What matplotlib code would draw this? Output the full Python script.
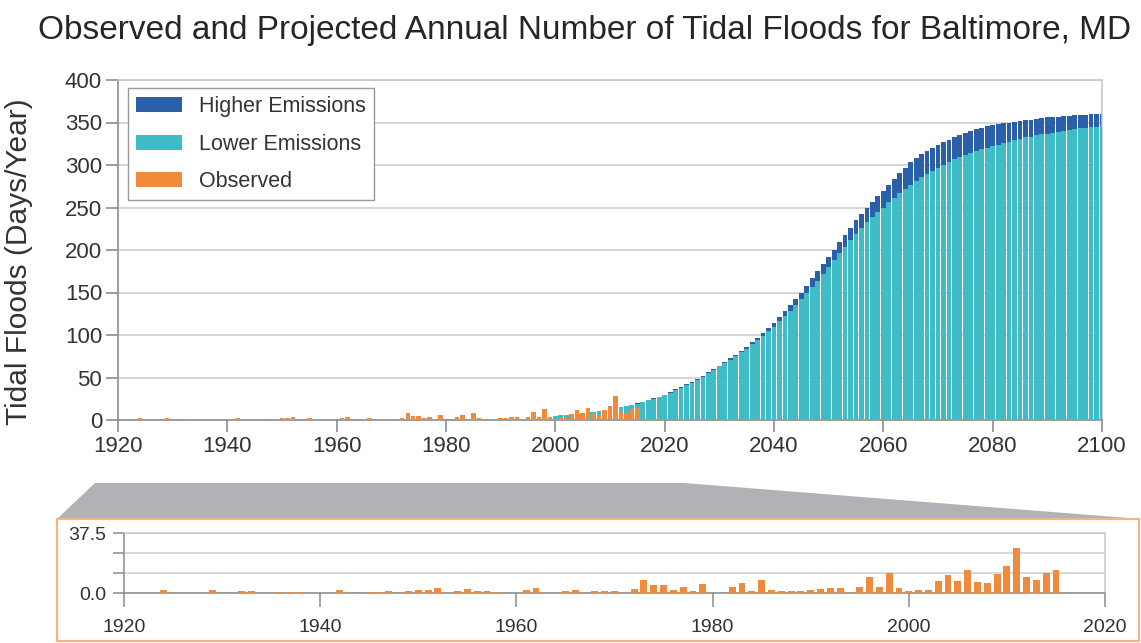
import matplotlib
matplotlib.use('Agg')
import matplotlib.pyplot as plt
from matplotlib.patches import Polygon, Rectangle, Patch

# ---------------- data ----------------
obs_years = list(range(1920, 2016))
obs_values = [
    0, 0, 0, 0, 2, 0, 0, 0, 0, 2,            # 1920s
    0, 0, 1, 1, 0, 0, 0.5, 0.5, 0.5, 0,      # 1930s
    0, 0, 2, 0, 0, 0.5, 0.5, 1, 0, 1.5,      # 1940s
    2, 2, 3, 0, 1, 2.5, 1, 1, 0.5, 0,        # 1950s
    0, 2, 3, 0, 0, 1, 2, 0, 1, 1,            # 1960s
    1, 0, 2.5, 8, 5, 5, 2, 3.5, 1.5, 5.5,    # 1970s
    0, 0, 3.5, 6, 1, 8, 2, 1.5, 1.5, 1.5,    # 1980s
    2, 2.5, 3, 3, 0, 4, 10, 3.5, 12.5, 3,    # 1990s
    1, 2, 2, 7.5, 11.5, 7.5, 14.5, 7, 6, 12, # 2000s
    17, 28, 10, 8, 12.5, 14.5,               # 2010-2015
]

proj_years = list(range(2000, 2101))
lower_values = [
    5, 5.5, 6, 7, 7.5, 8, 9, 10, 11, 12,
    13, 14, 15, 16.5, 17.5, 19, 21, 23, 25, 27,
    29, 32, 35, 38, 41, 44, 47.5, 51, 55, 59,
    63, 67, 71, 75, 79.5, 84, 89, 94, 99, 104.5,
    110, 116, 122, 128.5, 135, 142, 149, 156.5, 164, 172,
    180, 188, 196, 204, 211.5, 219, 226, 232.5, 239, 244.5,
    250, 256, 261.5, 267, 272, 277, 281.5, 285.5, 289.5, 293.5,
    297, 300.5, 303.5, 306.5, 309.5, 312, 314.5, 316.5, 318.5, 320.5,
    322, 324, 326, 327.5, 329.5, 331, 332.5, 333.5, 335, 336,
    337, 338, 339, 340, 341, 342, 343, 343.5, 344.5, 345,
    346,
]
higher_values = [
    5, 5.5, 6, 7, 7.5, 8, 9, 10, 11, 12,
    13, 14, 15.5, 16.5, 18, 19.5, 21.5, 23.5, 25.5, 27.5,
    30, 33, 36, 39, 42, 45, 48.5, 52, 56, 60,
    64, 68, 72.5, 77, 81.5, 86, 91.5, 97, 102.5, 108,
    114, 121, 128, 135, 142.5, 150, 158, 166.5, 175, 183.5,
    192, 200.5, 209, 217.5, 226, 235, 242, 249, 256, 263,
    270, 277, 284, 290.5, 297, 303, 308, 312.5, 316.5, 320.5,
    324, 327, 330, 332.5, 335.5, 338, 340, 342, 344, 345.5,
    347, 348, 349, 350, 351, 352, 353, 353.5, 354.5, 355,
    356, 356.5, 357, 357.5, 358, 358.5, 359, 359.3, 359.6, 359.8,
    360,
]

x_ticks = [1920, 1940, 1960, 1980, 2000, 2020, 2040, 2060, 2080, 2100]
y_ticks = [0, 50, 100, 150, 200, 250, 300, 350, 400]
inset_x_ticks = [1920, 1940, 1960, 1980, 2000, 2020]
inset_y_ticks = [0, 12.5, 25, 37.5]
inset_y_labels = ['0.0', '', '', '37.5']

title_text = 'Observed and Projected Annual Number of Tidal Floods for Baltimore, MD'
ylabel_text = 'Tidal Floods (Days/Year)'
legend_labels = ['Higher Emissions', 'Lower Emissions', 'Observed']

# ---------------- style ----------------
C_HIGH = '#2a60aa'
C_LOW = '#40bcc7'
C_OBS = '#f08a3c'
C_AXIS = '#8c8c8c'
C_GRID = '#d2d2d2'
C_TEXT = '#333333'
FONT = ['Liberation Sans', 'DejaVu Sans']

W, H = 1141, 643
fig = plt.figure(figsize=(W / 100, H / 100), dpi=100)
fig.patch.set_facecolor('white')


def fx(px):
    return px / W


def fy(py):
    return 1 - py / H


# ---------------- connector and inset frame (behind everything) ----------------
trap = Polygon([(fx(95), fy(483)), (fx(684), fy(483)), (fx(1141), fy(519)), (fx(57), fy(519))],
               closed=True, transform=fig.transFigure, facecolor='#b0b2b5',
               edgecolor='none', zorder=-5)
fig.patches.append(trap)
box = Rectangle((fx(57), fy(641)), fx(1139) - fx(57), fy(519) - fy(641),
                transform=fig.transFigure, facecolor='white', edgecolor='#f3b682',
                linewidth=1.6, zorder=-4)
fig.patches.append(box)

# ---------------- main axes ----------------
ax = fig.add_axes([fx(118), fy(420), fx(1102) - fx(118), fy(80) - fy(420)])
ax.set_zorder(2)
ax.bar(proj_years, higher_values, width=0.88, color=C_HIGH, linewidth=0, zorder=2)
ax.bar(proj_years, lower_values, width=0.88, color=C_LOW, linewidth=0, zorder=3)
ax.bar(obs_years, obs_values, width=0.8, color=C_OBS, linewidth=0, zorder=4)
ax.set_xlim(1920, 2100)
ax.set_ylim(0, 400)
ax.set_xticks(x_ticks)
ax.set_yticks(y_ticks)
ax.set_xticklabels([str(t) for t in x_ticks], family=FONT, fontsize=16, color=C_TEXT)
ax.set_yticklabels([str(t) for t in y_ticks], family=FONT, fontsize=16, color=C_TEXT)
ax.yaxis.grid(True, color=C_GRID, linewidth=1.3)
ax.set_axisbelow(True)
for s in ['left', 'bottom']:
    ax.spines[s].set_color(C_AXIS)
    ax.spines[s].set_linewidth(1.2)
for s in ['top', 'right']:
    ax.spines[s].set_color('#c8c8c8')
    ax.spines[s].set_linewidth(1.2)
ax.tick_params(axis='both', direction='out', length=8.5, width=1.2, color=C_AXIS, pad=3)

handles = [Patch(facecolor=C_HIGH, edgecolor='none'),
           Patch(facecolor=C_LOW, edgecolor='none'),
           Patch(facecolor=C_OBS, edgecolor='none')]
leg = ax.legend(handles, legend_labels, loc='upper left', bbox_to_anchor=(0.01, 0.977),
                borderaxespad=0, frameon=True, fancybox=False, framealpha=1,
                edgecolor='#9a9a9a', handlelength=2.1, handleheight=0.7,
                labelspacing=0.75, handletextpad=0.8, borderpad=0.4,
                prop={'family': FONT, 'size': 15.5})
leg.get_frame().set_linewidth(1.0)
for t in leg.get_texts():
    t.set_color(C_TEXT)

# ---------------- title / y label ----------------
fig.text(fx(585), fy(30), title_text, ha='center', va='center', fontsize=24,
         family=FONT, color='#262626')
fig.text(fx(19), fy(262), ylabel_text, ha='center', va='center', rotation=90,
         fontsize=21.5, family=FONT, color=C_TEXT)

# ---------------- inset axes ----------------
ax2 = fig.add_axes([fx(124), fy(593), fx(1105) - fx(124), fy(533) - fy(593)])
ax2.set_zorder(2)
ax2.patch.set_alpha(0)
ax2.bar(obs_years, obs_values, width=0.7, color=C_OBS, linewidth=0, zorder=3)
ax2.set_xlim(1920, 2020)
ax2.set_ylim(0, 37.5)
ax2.set_xticks(inset_x_ticks)
ax2.set_yticks(inset_y_ticks)
ax2.set_xticklabels([str(t) for t in inset_x_ticks], family=FONT, fontsize=14, color=C_TEXT)
ax2.set_yticklabels(inset_y_labels, family=FONT, fontsize=14, color=C_TEXT)
ax2.yaxis.grid(True, color=C_GRID, linewidth=1.2)
ax2.set_axisbelow(True)
for s in ['left', 'bottom']:
    ax2.spines[s].set_color(C_AXIS)
    ax2.spines[s].set_linewidth(1.1)
for s in ['top', 'right']:
    ax2.spines[s].set_color('#c8c8c8')
    ax2.spines[s].set_linewidth(1.1)
ax2.tick_params(axis='x', direction='out', length=10, width=1.1, color=C_AXIS, pad=9)
ax2.tick_params(axis='y', direction='out', length=8, width=1.1, color=C_AXIS, pad=5)

fig.savefig('out.png', dpi=100, facecolor='white')
